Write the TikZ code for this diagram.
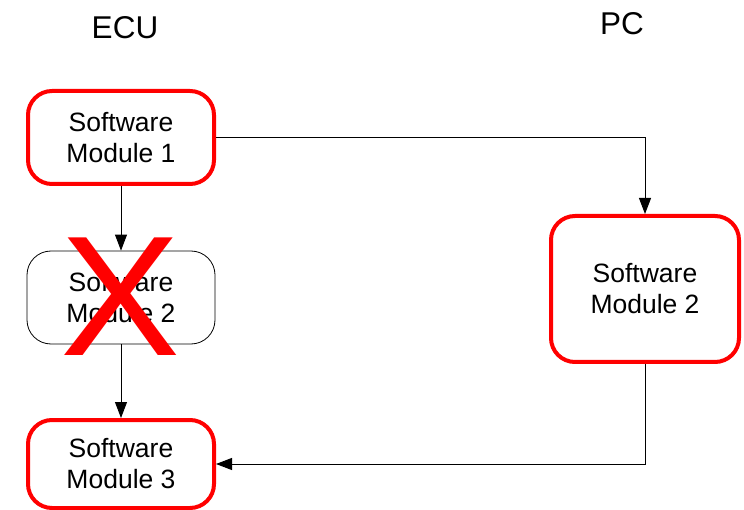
\documentclass[tikz,border=0pt]{standalone}
\usepackage{fontspec}
\setmainfont{Liberation Sans}
\usetikzlibrary{arrows.meta}
\tikzset{
  redbox/.style={draw=red, line width=4pt, rounded corners=24pt, fill=white, align=center, font=\fontsize{26.5}{31}\selectfont},
  plainbox/.style={draw=black, line width=0.8pt, rounded corners=24pt, fill=white, align=center, font=\fontsize{26.5}{31}\selectfont},
  conn/.style={draw=black, line width=0.9pt, -{Triangle[length=16pt,width=12pt]}},
  title/.style={font=\fontsize{31.5}{35}\selectfont}
}
\begin{document}
\begin{tikzpicture}[x=1pt,y=-1pt]
\useasboundingbox (0,0) rectangle (744,510);
\node[title] (ecu) at (125,28) {ECU};
\node[title] (pc) at (622,24) {PC};
\node[redbox, minimum width=186pt, minimum height=93pt] (m1) at (121,137.5) {Software\\Module 1};
\node[plainbox, minimum width=188pt, minimum height=93pt] (m2) at (121,297.5) {Software\\Module 2};
\node[redbox, minimum width=186pt, minimum height=88pt] (m3) at (121,464) {Software\\Module 3};
\node[redbox, minimum width=188pt, minimum height=146pt] (pcm) at (645,289) {Software\\Module 2};
\node[text=red, font=\fontsize{180}{180}\selectfont, inner sep=0pt, yscale=0.95] (x) at (121,297) {X};
\draw[conn] (m1.south) -- (m2.north);
\draw[conn] (m2.south) -- (m3.north);
\draw[conn] (m1.east) -| (pcm.north);
\draw[conn] (pcm.south) |- (m3.east);
\end{tikzpicture}
\end{document}
